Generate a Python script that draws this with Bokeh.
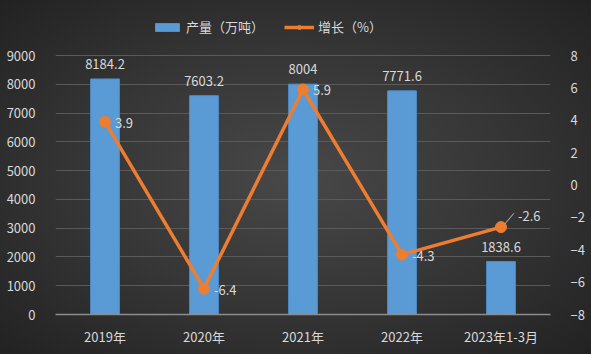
from bokeh.plotting import figure
from bokeh.models import ColumnDataSource, LinearAxis, Range1d, Legend, LegendItem, FactorRange
from bokeh.embed import file_html
from bokeh.resources import INLINE
from bokeh.core.properties import value

categories = ["2019年", "2020年", "2021年", "2022年", "2023年1-3月"]
output = [8184.2, 7603.2, 8004, 7771.6, 1838.6]
growth = [3.9, -6.4, 5.9, -4.3, -2.6]
left_ticks = list(range(0, 9001, 1000))
right_ticks = list(range(-8, 9, 2))

FONT = "Noto Sans CJK SC"
TXT = "#d9d9d9"
BAR = "#5b9bd5"
LINE = "#ed7d31"

H, TOP, BOT = 354, 55, 40
frame_h = H - BOT           # frame runs to the top edge; the axes stop at 9000 / 8
axis_h = frame_h - TOP
ymax = 9000 * frame_h / axis_h
y2max = -8 + 16 * frame_h / axis_h

src = ColumnDataSource(dict(
    cat=categories, out=output, gr=growth,
    out_lbl=[("%g" % v) for v in output],
))

p = figure(width=591, height=H, x_range=FactorRange(*categories, range_padding=0),
           y_range=Range1d(0, ymax), output_backend="svg", toolbar_location=None,
           min_border_left=55, min_border_right=41, min_border_top=0, min_border_bottom=BOT)
p.extra_y_ranges = {"g": Range1d(-8, y2max)}

p.background_fill_alpha = 0
p.border_fill_alpha = 0
p.outline_line_color = None

bars = p.vbar(x="cat", top="out", width=0.29, source=src, fill_color=BAR, line_color="#4f8fcc")
line = p.line(x="cat", y="gr", source=src, y_range_name="g", line_color=LINE, line_width=3.5)
pts = p.scatter(x="cat", y="gr", source=src, y_range_name="g", size=11, fill_color=LINE, line_color=LINE)

p.text(x="cat", y="out", text="out_lbl", source=src, text_align="center", text_baseline="bottom",
       y_offset=-10, text_color=TXT, text_font_size="13px", text_font=value(FONT))

src_l = ColumnDataSource(dict(cat=categories[:4], gr=growth[:4], lbl=[("%g" % v) for v in growth[:4]]))
p.text(x="cat", y="gr", text="lbl", source=src_l, y_range_name="g", text_align="left",
       text_baseline="middle", x_offset=10, y_offset=1, text_color=TXT, text_font_size="13px", text_font=value(FONT))
src_last = ColumnDataSource(dict(cat=categories[4:], gr=growth[4:], lbl=[("%g" % v) for v in growth[4:]]))
p.text(x="cat", y="gr", text="lbl", source=src_last, y_range_name="g", text_align="left",
       text_baseline="middle", x_offset=17, y_offset=-11, text_color=TXT, text_font_size="13px", text_font=value(FONT))
lead = ColumnDataSource(dict(x0=[(categories[4], 0.04)], y0=[growth[4] + 0.2],
                             x1=[(categories[4], 0.13)], y1=[growth[4] + 0.85]))
p.segment(x0="x0", y0="y0", x1="x1", y1="y1", source=lead, y_range_name="g", line_color="#bfbfbf", line_width=1)

p.yaxis.ticker = left_ticks
ax2 = LinearAxis(y_range_name="g", ticker=right_ticks)
p.add_layout(ax2, "right")

for ax in [p.yaxis[0], ax2]:
    ax.axis_line_color = None
    ax.major_tick_line_color = None
    ax.minor_tick_line_color = None
    ax.major_label_text_color = TXT
    ax.major_label_text_font_size = "13px"
    ax.major_label_text_font = FONT
    ax.major_label_standoff = 14

p.xaxis.axis_line_color = "#8c8c8c"
p.xaxis.axis_line_width = 1.5
p.xaxis.major_tick_line_color = None
p.xaxis.minor_tick_line_color = None
p.xaxis.major_label_text_color = TXT
p.xaxis.major_label_text_font_size = "13px"
p.xaxis.major_label_text_font = FONT
p.xaxis.major_label_standoff = 6

p.xgrid.grid_line_color = None
p.ygrid.ticker = left_ticks
p.ygrid.grid_line_color = "#5a5a5a"
p.ygrid.grid_line_width = 1

legend = Legend(items=[LegendItem(label="产量（万吨）", renderers=[bars]),
                       LegendItem(label="增长（%）", renderers=[line, pts])],
                orientation="horizontal", location=(97, frame_h - 36),
                background_fill_alpha=0, border_line_color=None,
                label_text_color=TXT, label_text_font=FONT, label_text_font_size="13px",
                glyph_width=30, glyph_height=10, spacing=20, padding=2, margin=0,
                label_standoff=4)
p.add_layout(legend)

html = file_html(p, INLINE)
style = ("<style>html,body{margin:0;padding:0;width:591px;height:354px;"
         "background:radial-gradient(ellipse farthest-corner at 50% 50%,"
         "#484848 0%,#363636 50%,#222222 100%);}</style>")
html = html.replace("</head>", style + "</head>", 1)
open("out.html", "w").write(html)
